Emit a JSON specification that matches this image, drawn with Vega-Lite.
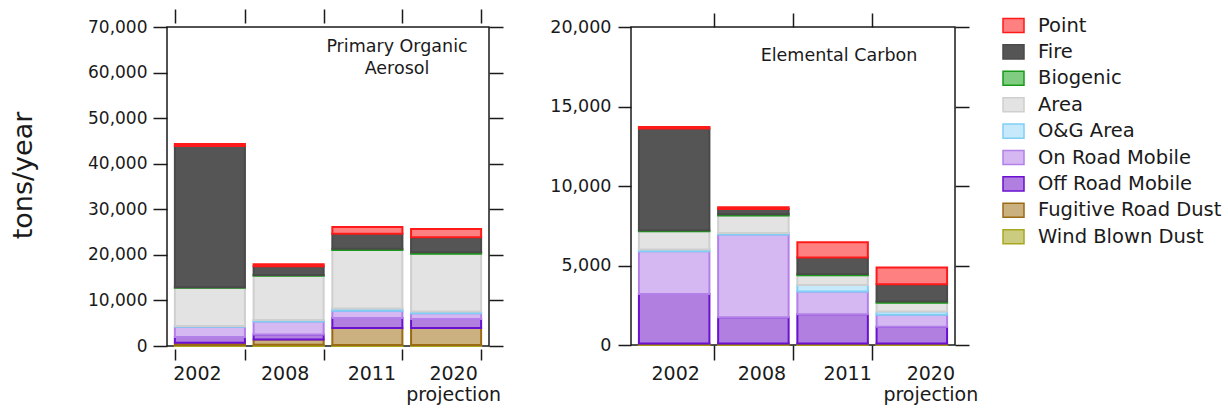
{
  "$schema": "https://vega.github.io/schema/vega-lite/v6.json",
  "background": "white",
  "padding": {"left": 8, "top": 7, "right": 0, "bottom": 0},
  "spacing": 44,
  "datasets": {
    "emissions": [
      {"species": "POA", "year": "2002", "source": "Wind Blown Dust", "tons": 200},
      {"species": "POA", "year": "2002", "source": "Fugitive Road Dust", "tons": 500},
      {"species": "POA", "year": "2002", "source": "Off Road Mobile", "tons": 1300},
      {"species": "POA", "year": "2002", "source": "On Road Mobile", "tons": 2200},
      {"species": "POA", "year": "2002", "source": "O&G Area", "tons": 200},
      {"species": "POA", "year": "2002", "source": "Area", "tons": 8400},
      {"species": "POA", "year": "2002", "source": "Biogenic", "tons": 100},
      {"species": "POA", "year": "2002", "source": "Fire", "tons": 31000},
      {"species": "POA", "year": "2002", "source": "Point", "tons": 400},
      {"species": "POA", "year": "2008", "source": "Wind Blown Dust", "tons": 300},
      {"species": "POA", "year": "2008", "source": "Fugitive Road Dust", "tons": 1100},
      {"species": "POA", "year": "2008", "source": "Off Road Mobile", "tons": 1100},
      {"species": "POA", "year": "2008", "source": "On Road Mobile", "tons": 2900},
      {"species": "POA", "year": "2008", "source": "O&G Area", "tons": 300},
      {"species": "POA", "year": "2008", "source": "Area", "tons": 9700},
      {"species": "POA", "year": "2008", "source": "Biogenic", "tons": 200},
      {"species": "POA", "year": "2008", "source": "Fire", "tons": 1900},
      {"species": "POA", "year": "2008", "source": "Point", "tons": 450},
      {"species": "POA", "year": "2011", "source": "Wind Blown Dust", "tons": 200},
      {"species": "POA", "year": "2011", "source": "Fugitive Road Dust", "tons": 3750},
      {"species": "POA", "year": "2011", "source": "Off Road Mobile", "tons": 2200},
      {"species": "POA", "year": "2011", "source": "On Road Mobile", "tons": 1600},
      {"species": "POA", "year": "2011", "source": "O&G Area", "tons": 500},
      {"species": "POA", "year": "2011", "source": "Area", "tons": 12800},
      {"species": "POA", "year": "2011", "source": "Biogenic", "tons": 300},
      {"species": "POA", "year": "2011", "source": "Fire", "tons": 3300},
      {"species": "POA", "year": "2011", "source": "Point", "tons": 1450},
      {"species": "POA", "year": "2020", "source": "Wind Blown Dust", "tons": 200},
      {"species": "POA", "year": "2020", "source": "Fugitive Road Dust", "tons": 3750},
      {"species": "POA", "year": "2020", "source": "Off Road Mobile", "tons": 2000},
      {"species": "POA", "year": "2020", "source": "On Road Mobile", "tons": 1250},
      {"species": "POA", "year": "2020", "source": "O&G Area", "tons": 350},
      {"species": "POA", "year": "2020", "source": "Area", "tons": 12700},
      {"species": "POA", "year": "2020", "source": "Biogenic", "tons": 300},
      {"species": "POA", "year": "2020", "source": "Fire", "tons": 3300},
      {"species": "POA", "year": "2020", "source": "Point", "tons": 1800},
      {"species": "EC", "year": "2002", "source": "Wind Blown Dust", "tons": 40},
      {"species": "EC", "year": "2002", "source": "Fugitive Road Dust", "tons": 60},
      {"species": "EC", "year": "2002", "source": "Off Road Mobile", "tons": 3100},
      {"species": "EC", "year": "2002", "source": "On Road Mobile", "tons": 2700},
      {"species": "EC", "year": "2002", "source": "O&G Area", "tons": 100},
      {"species": "EC", "year": "2002", "source": "Area", "tons": 1150},
      {"species": "EC", "year": "2002", "source": "Biogenic", "tons": 60},
      {"species": "EC", "year": "2002", "source": "Fire", "tons": 6400},
      {"species": "EC", "year": "2002", "source": "Point", "tons": 100},
      {"species": "EC", "year": "2008", "source": "Wind Blown Dust", "tons": 40},
      {"species": "EC", "year": "2008", "source": "Fugitive Road Dust", "tons": 60},
      {"species": "EC", "year": "2008", "source": "Off Road Mobile", "tons": 1650},
      {"species": "EC", "year": "2008", "source": "On Road Mobile", "tons": 5200},
      {"species": "EC", "year": "2008", "source": "O&G Area", "tons": 100},
      {"species": "EC", "year": "2008", "source": "Area", "tons": 1100},
      {"species": "EC", "year": "2008", "source": "Biogenic", "tons": 80},
      {"species": "EC", "year": "2008", "source": "Fire", "tons": 330},
      {"species": "EC", "year": "2008", "source": "Point", "tons": 100},
      {"species": "EC", "year": "2011", "source": "Wind Blown Dust", "tons": 40},
      {"species": "EC", "year": "2011", "source": "Fugitive Road Dust", "tons": 60},
      {"species": "EC", "year": "2011", "source": "Off Road Mobile", "tons": 1830},
      {"species": "EC", "year": "2011", "source": "On Road Mobile", "tons": 1430},
      {"species": "EC", "year": "2011", "source": "O&G Area", "tons": 420},
      {"species": "EC", "year": "2011", "source": "Area", "tons": 600},
      {"species": "EC", "year": "2011", "source": "Biogenic", "tons": 80},
      {"species": "EC", "year": "2011", "source": "Fire", "tons": 1050},
      {"species": "EC", "year": "2011", "source": "Point", "tons": 950},
      {"species": "EC", "year": "2020", "source": "Wind Blown Dust", "tons": 40},
      {"species": "EC", "year": "2020", "source": "Fugitive Road Dust", "tons": 60},
      {"species": "EC", "year": "2020", "source": "Off Road Mobile", "tons": 1050},
      {"species": "EC", "year": "2020", "source": "On Road Mobile", "tons": 760},
      {"species": "EC", "year": "2020", "source": "O&G Area", "tons": 190},
      {"species": "EC", "year": "2020", "source": "Area", "tons": 550},
      {"species": "EC", "year": "2020", "source": "Biogenic", "tons": 80},
      {"species": "EC", "year": "2020", "source": "Fire", "tons": 1090},
      {"species": "EC", "year": "2020", "source": "Point", "tons": 1050}
    ]
  },
  "resolve": {"scale": {"fill": "shared", "stroke": "shared"}},
  "hconcat": [
    {
      "width": 322,
      "height": 319,
      "data": {"name": "emissions"},
      "transform": [
        {"filter": "datum.species === 'POA'"},
        {"calculate": "indexof(['Wind Blown Dust','Fugitive Road Dust','Off Road Mobile','On Road Mobile','O&G Area','Area','Biogenic','Fire','Point'], datum.source)", "as": "stackRank"}
      ],
      "title": {
        "text": ["Primary Organic", "Aerosol"],
        "anchor": "end", "align": "center", "baseline": "top", "frame": "group",
        "dx": -92, "dy": 73, "fontSize": 17.5, "fontWeight": "normal", "lineHeight": 22,
        "font": "DejaVu Sans", "color": "#1a1a1a"
      },
      "layer": [
        {
          "mark": {"type": "bar", "strokeWidth": 2},
          "encoding": {
            "x": {
              "field": "year", "type": "nominal",
              "scale": {"paddingInner": 0.11, "paddingOuter": 0.1},
              "axis": {
                "orient": "bottom", "title": null, "labelAngle": 0, "tickBand": "extent",
                "offset": 3, "tickSize": 11, "labelPadding": 4, "labelFontSize": 19,
                "labelBaseline": "top", "labelLineHeight": 21,
                "labelOffset": {
                  "condition": [
                    {"test": "datum.value === '2002'", "value": -13},
                    {"test": "datum.value === '2008'", "value": -4},
                    {"test": "datum.value === '2011'", "value": 4}
                  ],
                  "value": 7
                },
                "labelExpr": "datum.value === '2020' ? ['2020', 'projection'] : datum.value"
              }
            },
            "y": {
              "field": "tons", "type": "quantitative", "stack": "zero",
              "scale": {"domain": [0, 70000], "nice": false},
              "axis": {
                "orient": "left", "values": [0, 10000, 20000, 30000, 40000, 50000, 60000, 70000],
                "format": ",d", "tickSize": 14, "labelPadding": 6, "labelFontSize": 17,
                "title": "tons/year", "titleFontSize": 27, "titleFontWeight": "normal",
                "titleFont": "DejaVu Sans", "titlePadding": 50, "titleColor": "#1a1a1a", "titleY": 148
              }
            },
            "fill": {
              "field": "source", "type": "nominal",
              "scale": {
                "domain": ["Point", "Fire", "Biogenic", "Area", "O&G Area", "On Road Mobile", "Off Road Mobile", "Fugitive Road Dust", "Wind Blown Dust"],
                "range": ["#ff8080", "#555555", "#80cc80", "#e3e3e3", "#c6e9fb", "#d5b8f2", "#b07fe0", "#cbb080", "#cccc80"]
              },
              "legend": {"title": null}
            },
            "stroke": {
              "field": "source", "type": "nominal",
              "scale": {
                "domain": ["Point", "Fire", "Biogenic", "Area", "O&G Area", "On Road Mobile", "Off Road Mobile", "Fugitive Road Dust", "Wind Blown Dust"],
                "range": ["#ff1a1a", "#4a4a4a", "#1a9a1a", "#cfcfcf", "#80d0f5", "#b380ea", "#6a10d0", "#9a6a15", "#a8a820"]
              },
              "legend": {"title": null}
            },
            "order": {"field": "stackRank", "type": "quantitative"}
          }
        },
        {
          "mark": {"type": "bar", "opacity": 0},
          "encoding": {
            "x": {
              "field": "year", "type": "nominal",
              "axis": {"orient": "top", "title": null, "labels": false, "tickBand": "extent", "offset": 4, "tickSize": 14}
            },
            "y": {
              "aggregate": "sum", "field": "tons", "type": "quantitative",
              "axis": {"orient": "right", "title": null, "labels": false, "values": [0, 10000, 20000, 30000, 40000, 50000, 60000, 70000], "tickSize": 14}
            }
          }
        }
      ],
      "resolve": {"axis": {"x": "independent", "y": "independent"}}
    },
    {
      "width": 324,
      "height": 318,
      "data": {"name": "emissions"},
      "transform": [
        {"filter": "datum.species === 'EC'"},
        {"calculate": "indexof(['Wind Blown Dust','Fugitive Road Dust','Off Road Mobile','On Road Mobile','O&G Area','Area','Biogenic','Fire','Point'], datum.source)", "as": "stackRank"}
      ],
      "title": {
        "text": "Elemental Carbon",
        "anchor": "end", "align": "center", "baseline": "top", "frame": "group",
        "dx": -116, "dy": 56, "fontSize": 17.5, "fontWeight": "normal",
        "font": "DejaVu Sans", "color": "#1a1a1a"
      },
      "layer": [
        {
          "mark": {"type": "bar", "strokeWidth": 2},
          "encoding": {
            "x": {
              "field": "year", "type": "nominal",
              "scale": {"paddingInner": 0.11, "paddingOuter": 0.1},
              "axis": {
                "orient": "bottom", "title": null, "labelAngle": 0, "bandPosition": 1,
                "tickOffset": 4.5,
                "labelOffset": {
                  "condition": [
                    {"test": "datum.value === '2002'", "value": -3.5},
                    {"test": "datum.value === '2008'", "value": 3.5},
                    {"test": "datum.value === '2011'", "value": 10}
                  ],
                  "value": 14
                },
                "offset": 0, "tickSize": 15, "labelPadding": 4, "labelFontSize": 19,
                "labelBaseline": "top", "labelLineHeight": 21,
                "tickOpacity": {"condition": {"test": "datum.value === '2020'", "value": 0}, "value": 1},
                "labelExpr": "datum.value === '2020' ? ['2020', 'projection'] : datum.value"
              }
            },
            "y": {
              "field": "tons", "type": "quantitative", "stack": "zero",
              "scale": {"domain": [0, 20000], "nice": false},
              "axis": {
                "orient": "left", "values": [0, 5000, 10000, 15000, 20000],
                "format": ",d", "tickSize": 13, "labelPadding": 7, "labelFontSize": 17.5, "title": null
              }
            },
            "fill": {"field": "source", "type": "nominal", "legend": {"title": null}},
            "stroke": {"field": "source", "type": "nominal", "legend": {"title": null}},
            "order": {"field": "stackRank", "type": "quantitative"}
          }
        },
        {
          "mark": {"type": "bar", "opacity": 0},
          "encoding": {
            "x": {
              "field": "year", "type": "nominal",
              "axis": {
                "orient": "top", "title": null, "labels": false, "bandPosition": 1, "tickOffset": 4.5,
                "offset": 0, "tickSize": 14,
                "tickOpacity": {"condition": {"test": "datum.value === '2020'", "value": 0}, "value": 1}
              }
            },
            "y": {
              "aggregate": "sum", "field": "tons", "type": "quantitative",
              "axis": {"orient": "right", "title": null, "labels": false, "values": [0, 5000, 10000, 15000, 20000], "tickSize": 14}
            }
          }
        }
      ],
      "resolve": {"axis": {"x": "independent", "y": "independent"}}
    }
  ],
  "config": {
    "font": "DejaVu Sans",
    "view": {"stroke": "#1a1a1a", "strokeWidth": 1.5},
    "axis": {
      "domain": false, "grid": false, "tickColor": "#1a1a1a", "tickWidth": 1.5,
      "labelColor": "#1a1a1a", "labelFont": "DejaVu Sans"
    },
    "legend": {
      "orient": "none", "legendX": 835, "legendY": -13, "padding": 0,
      "labelFont": "DejaVu Sans", "labelFontSize": 19.5, "labelColor": "#1a1a1a", "labelOffset": 13,
      "labelLimit": 400,
      "symbolType": "M-1,-0.67H1V0.67H-1Z", "symbolSize": 441, "symbolStrokeWidth": 1.5, "symbolOpacity": 1,
      "rowPadding": 4.4
    }
  }
}
